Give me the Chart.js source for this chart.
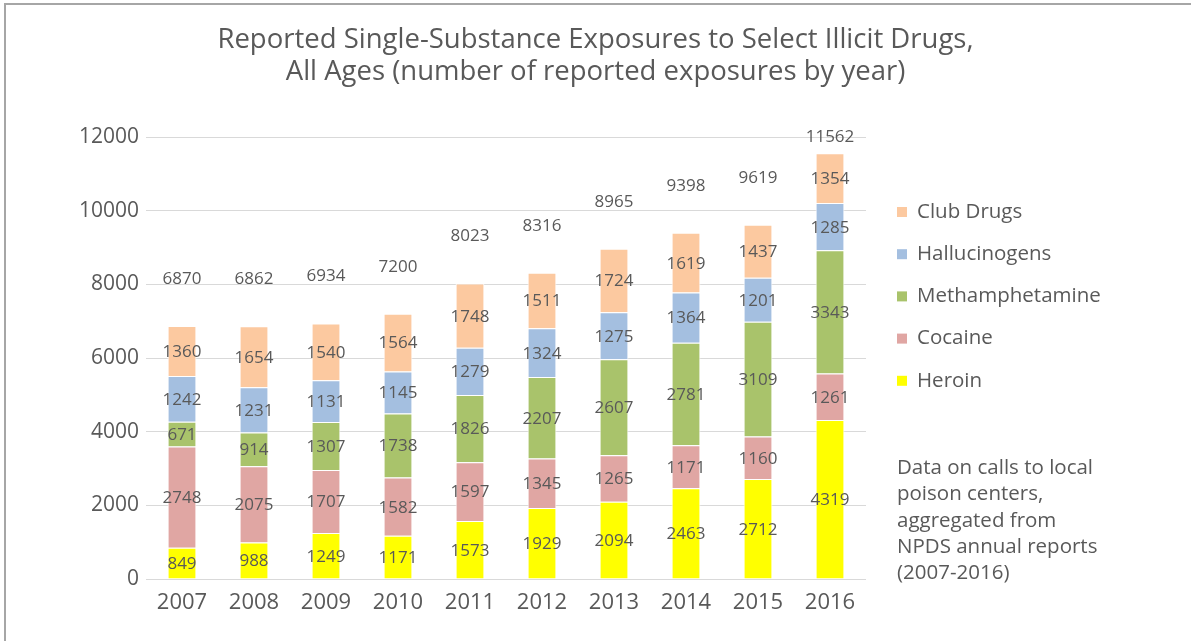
<!DOCTYPE html>
<html>
<head>
<meta charset="utf-8">
<script src="https://cdn.jsdelivr.net/npm/chart.js@4/dist/chart.umd.min.js"></script>
<style>
  html, body { margin: 0; padding: 0; background: #fff; }
  #wrap { position: relative; width: 1191px; height: 641px; }
  #frame { position: absolute; left: 4px; top: 3px; right: 0; bottom: 0;
           border-top: 2px solid #a6a6a6; border-left: 2px solid #a6a6a6; pointer-events: none; }
  canvas { position: absolute; left: 0; top: 0; }
</style>
</head>
<body>
<div id="wrap">
  <canvas id="drugsChart" width="1191" height="641"></canvas>
  <div id="frame"></div>
</div>
<script>
const years = ['2007', '2008', '2009', '2010', '2011', '2012', '2013', '2014', '2015', '2016'];
const heroin = [849, 988, 1249, 1171, 1573, 1929, 2094, 2463, 2712, 4319];
const cocaine = [2748, 2075, 1707, 1582, 1597, 1345, 1265, 1171, 1160, 1261];
const meth = [671, 914, 1307, 1738, 1826, 2207, 2607, 2781, 3109, 3343];
const hallucinogens = [1242, 1231, 1131, 1145, 1279, 1324, 1275, 1364, 1201, 1285];
const clubDrugs = [1360, 1654, 1540, 1564, 1748, 1511, 1724, 1619, 1437, 1354];
const totals = [6870, 6862, 6934, 7200, 8023, 8316, 8965, 9398, 9619, 11562];
const titleLines = ['Reported Single-Substance Exposures to Select Illicit Drugs,',
                    'All Ages (number of reported exposures by year)'];
const noteLines = ['Data on calls to local', 'poison centers,', 'aggregated from', 'NPDS annual reports', '(2007-2016)'];

const FONT = '"Open Sans", Lato, sans-serif';
const TEXT = '#595959';

// title, segment values, totals above bars, legend and side note
const labelPlugin = {
    id: 'drugLabels',
    afterDatasetsDraw(chart) {
        const ctx = chart.ctx;
        const area = chart.chartArea;
        ctx.save();
        ctx.fillStyle = TEXT;
        ctx.textAlign = 'center';
        ctx.textBaseline = 'middle';

        ctx.font = '27.5px ' + FONT;
        titleLines.forEach(function(line, k) {
            ctx.fillText(line, chart.width / 2, 40 + k * 32);
        });

        ctx.font = '17px ' + FONT;
        chart.data.datasets.forEach(function(ds, i) {
            chart.getDatasetMeta(i).data.forEach(function(bar, j) {
                ctx.fillText(ds.data[j], bar.x, (bar.y + bar.base) / 2 + 1);
            });
        });

        const last = chart.getDatasetMeta(chart.data.datasets.length - 1);
        last.data.forEach(function(bar, j) {
            ctx.fillText(totals[j], bar.x, Math.max(bar.y - 47, area.top));
        });

        // legend, top series first
        ctx.textAlign = 'left';
        ctx.font = '20.5px ' + FONT;
        const items = chart.data.datasets.slice().reverse();
        items.forEach(function(ds, k) {
            const y = 212 + k * 42.2;
            ctx.fillStyle = ds.backgroundColor;
            ctx.fillRect(897, y - 5, 10, 10);
            ctx.fillStyle = TEXT;
            ctx.fillText(ds.label, 917, y);
        });

        ctx.font = '20.5px ' + FONT;
        noteLines.forEach(function(line, k) {
            ctx.fillText(line, 897, 468 + k * 26.4);
        });
        ctx.restore();
    }
};

const ctx = document.getElementById('drugsChart').getContext('2d');

const drugsChart = new Chart(ctx, {
    type: 'bar',
    data: {
        labels: years,
        datasets: [
            { label: 'Heroin', data: heroin, backgroundColor: '#ffff00' },
            { label: 'Cocaine', data: cocaine, backgroundColor: '#e0a6a3' },
            { label: 'Methamphetamine', data: meth, backgroundColor: '#a9c36b' },
            { label: 'Hallucinogens', data: hallucinogens, backgroundColor: '#a4bfe0' },
            { label: 'Club Drugs', data: clubDrugs, backgroundColor: '#fcc9a0' }
        ].map(function(ds) {
            ds.borderColor = '#ffffff';
            ds.borderWidth = 1;
            ds.barPercentage = 0.4;
            ds.categoryPercentage = 1;
            return ds;
        })
    },
    options: {
        responsive: false,
        animation: false,
        layout: { padding: { left: 0, top: 137, right: 325, bottom: 0 } },
        plugins: {
            legend: { display: false },
            tooltip: { enabled: false },
            title: { display: false }
        },
        scales: {
            x: {
                stacked: true,
                grid: { display: false },
                border: { display: false },
                ticks: { color: TEXT, font: { family: FONT, size: 22 }, padding: 3 },
                afterFit: function(scale) { scale.height = 62; }
            },
            y: {
                stacked: true,
                min: 0,
                max: 12000,
                grid: { color: '#d9d9d9', lineWidth: 1, drawTicks: false },
                border: { display: false },
                ticks: {
                    stepSize: 2000, color: TEXT, font: { family: FONT, size: 21 }, padding: 7,
                    callback: function(v) { return String(v); }
                },
                afterFit: function(scale) { scale.width = 146; }
            }
        }
    },
    plugins: [labelPlugin]
});
</script>
</body>
</html>
